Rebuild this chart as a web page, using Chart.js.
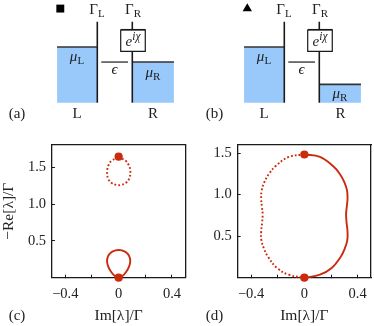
<!DOCTYPE html>
<html><head><meta charset="utf-8">
<script src="https://cdn.jsdelivr.net/npm/chart.js@4"></script>
<style>
html,body{margin:0;padding:0;background:#fff;width:374px;height:326px;overflow:hidden}
canvas{position:absolute}
.box{position:absolute;display:block}
.t{position:absolute;transform:translate(-50%,-50%);font-family:"Liberation Serif",serif;font-size:15px;color:#222;line-height:1;white-space:nowrap}
.t i{font-style:italic}
.t sub{font-size:11px;line-height:0;vertical-align:-3px}
.t sup{font-size:11.5px;line-height:0;vertical-align:6px}
</style></head><body>
<div class="box" style="left:0;top:0;width:187px;height:130px"><canvas id="a"></canvas></div>
<div class="box" style="left:187px;top:0;width:187px;height:130px"><canvas id="b"></canvas></div>
<div class="box" style="left:0;top:130px;width:187px;height:196px"><canvas id="c"></canvas></div>
<div class="box" style="left:187px;top:130px;width:187px;height:196px"><canvas id="d"></canvas></div>

<div class="t" style="left:97px;top:9px">Γ<sub>L</sub></div>
<div class="t" style="left:133px;top:9px">Γ<sub>R</sub></div>
<div class="t" style="left:77px;top:56px"><i>μ</i><sub>L</sub></div>
<div class="t" style="left:153px;top:72px"><i>μ</i><sub>R</sub></div>
<div class="t" style="left:114.5px;top:69px"><i>ϵ</i></div>
<div class="t" style="left:133px;top:41px"><i>e</i><sup><i>iχ</i></sup></div>
<div class="t" style="left:77px;top:113px">L</div>
<div class="t" style="left:153px;top:113px">R</div>
<div class="t" style="left:17px;top:113px">(a)</div>

<div class="t" style="left:284px;top:9px">Γ<sub>L</sub></div>
<div class="t" style="left:320px;top:9px">Γ<sub>R</sub></div>
<div class="t" style="left:264px;top:56px"><i>μ</i><sub>L</sub></div>
<div class="t" style="left:340px;top:93px"><i>μ</i><sub>R</sub></div>
<div class="t" style="left:301.5px;top:69px"><i>ϵ</i></div>
<div class="t" style="left:320px;top:41px"><i>e</i><sup><i>iχ</i></sup></div>
<div class="t" style="left:264px;top:113px">L</div>
<div class="t" style="left:340.5px;top:113px">R</div>
<div class="t" style="left:214.5px;top:113px">(b)</div>

<div class="t" style="left:17px;top:315px">(c)</div>
<div class="t" style="left:214.5px;top:315px">(d)</div>

<script>
// Panels (c), (d): eigenvalue loops, Im[λ]/Γ and −Re[λ]/Γ
const cDottedX = [0, .055, .073, .088, .08, .055, .015, -.015, -.055, -.08, -.086, -.073, -.055, 0];
const cDottedY = [1.644, 1.585, 1.54, 1.454, 1.35, 1.29, 1.26, 1.26, 1.29, 1.35, 1.454, 1.54, 1.585, 1.644];
const cSolidX = [0, .03, .057, .078, .087, .08, .055, .025, 0, -.025, -.055, -.08, -.087, -.078, -.057, -.03, 0];
const cSolidY = [0, .025, .08, .15, .22, .29, .345, .37, .376, .37, .345, .29, .22, .15, .08, .025, 0];
const cMarkerX = [0, 0];
const cMarkerY = [1.644, 0];
const dSolidX = [0, .117, .217, .265, .3, .32, .324, .318, .313, .317, .324, .322, .303, .272, .205, .117, 0];
const dSolidY = [1.482, 1.453, 1.34, 1.25, 1.15, 1.05, .95, .85, .76, .66, .55, .45, .35, .25, .117, .036, 0];
const dDottedX = [0, -.117, -.217, -.265, -.3, -.32, -.324, -.318, -.313, -.317, -.324, -.322, -.303, -.272, -.205, -.117, 0];
const dDottedY = [1.482, 1.453, 1.34, 1.25, 1.15, 1.05, .95, .85, .76, .66, .55, .45, .35, .25, .117, .036, 0];
const dMarkerX = [0, 0];
const dMarkerY = [1.482, 0];
const xTickLabels = {"-0.4": "−0.4", "0": "0", "0.4": "0.4"};
const yTickValues = [0.5, 1.0, 1.5];

// Panels (a), (b): level scheme, energies in units of μL
const muL = 1;
const muRa = 0.73;
const muRb = 0.33;
const epsilon = 0.73;
const wallTop = 1.454;
const boxBottom = 0.923;
const boxTop = 1.31;

const RED = '#cb2a0c', BLUE = '#99c9fb', INK = '#1a1a1a';
const FONT = '"Liberation Serif", serif';
const pts = (xs, ys) => xs.map((x, i) => ({x, y: ys[i]}));

function scheme(id, muR, mark) {
  const line = (xs, ys, extra) => Object.assign({
    data: pts(xs, ys), showLine: true, pointRadius: 0, borderColor: INK, borderWidth: 1.6, tension: 0, clip: false
  }, extra);
  new Chart(document.getElementById(id), {
    type: 'scatter',
    data: {datasets: [
      line([-1.15, 0], [muL, muL], {fill: {value: 0}, backgroundColor: BLUE, borderColor: '#333', order: 6}),
      line([1, 2.19], [muR, muR], {fill: {value: 0}, backgroundColor: BLUE, borderColor: '#333', order: 6}),
      line([0, 0], [0, wallTop], {order: 5}),
      line([1, 1], [0, wallTop], {order: 5}),
      line([.114, .877], [epsilon, epsilon], {borderWidth: 1.2, order: 5}),
      line([.669, 1.371], [boxTop, boxTop], {fill: {value: boxBottom}, backgroundColor: '#fff', order: 3}),
      line([.669, 1.371, 1.371, .669, .669], [boxTop, boxTop, boxBottom, boxBottom, boxTop], {borderWidth: 1.2, order: 2}),
      {data: pts([-1.057], [1.69]), pointStyle: mark, pointRadius: mark === 'rect' ? 5.6 : 5.4, pointBackgroundColor: '#000', pointBorderWidth: 0, order: 1}
    ]},
    options: {
      responsive: false, animation: false, events: [],
      layout: {padding: 0, autoPadding: false},
      plugins: {legend: {display: false}, tooltip: {enabled: false}},
      scales: {
        x: {type: 'linear', display: false, min: -2.78, max: 2.563},
        y: {type: 'linear', display: false, min: -0.49, max: 1.844}
      }
    }
  });
}

function loop(id, solid, dotted, marks, yMax, left, right, yTitle) {
  const axisFit = (prop, v) => s => {
    s[prop] = v;
    s.paddingLeft = s.paddingRight = s.paddingTop = s.paddingBottom = 0;
  };
  const hidden = (pos, prop) => ({
    type: 'linear', position: pos, display: true, min: 0, max: 1,
    ticks: {display: false}, afterFit: axisFit(prop, 0),
    grid: {drawOnChartArea: false, drawTicks: false},
    border: {display: true, color: INK, width: 1.3}
  });
  new Chart(document.getElementById(id), {
    type: 'scatter',
    data: {datasets: [
      {data: marks, pointRadius: 4.1, pointBackgroundColor: RED, pointBorderWidth: 0, clip: false, order: 1},
      {data: solid, showLine: true, pointRadius: 0, borderColor: RED, borderWidth: 1.9, tension: 0.4, clip: false, order: 2},
      {data: dotted, showLine: true, pointRadius: 0, borderColor: RED, borderWidth: 1.9, borderDash: [1.8, 2.1], tension: 0.4, clip: false, order: 3}
    ]},
    options: {
      responsive: false, animation: false, events: [],
      layout: {padding: {left: 0, right: right, top: 14.7, bottom: 1}, autoPadding: false},
      plugins: {legend: {display: false}, tooltip: {enabled: false}},
      scales: {
        x: {
          type: 'linear', position: 'bottom', min: -0.5, max: 0.5,
          afterBuildTicks: s => { s.ticks = [-.4, -.2, 0, .2, .4].map(value => ({value})); },
          afterFit: axisFit('height', 47.3),
          ticks: {
            autoSkip: false, maxRotation: 0, padding: 11, color: '#222',
            font: {family: FONT, size: 14.5},
            callback: v => xTickLabels[String(Math.round(v * 10) / 10)] ?? ''
          },
          grid: {drawOnChartArea: false, tickLength: -3, tickWidth: 1, tickColor: INK},
          border: {display: true, color: INK, width: 1.3},
          title: {display: true, text: 'Im[λ]/Γ', color: '#222', font: {family: FONT, size: 15.5}, padding: {top: 0, bottom: 0}}
        },
        y: {
          type: 'linear', position: 'left', min: 0, max: yMax,
          afterBuildTicks: s => { s.ticks = yTickValues.map(value => ({value})); },
          afterFit: axisFit('width', left),
          ticks: {
            padding: 9, color: '#222',
            font: {family: FONT, size: 14.5},
            callback: v => v.toFixed(1)
          },
          grid: {drawOnChartArea: false, tickLength: -3, tickWidth: 1, tickColor: INK},
          border: {display: true, color: INK, width: 1.3},
          title: yTitle ? {display: true, text: '−Re[λ]/Γ', color: '#222', font: {family: FONT, size: 15.5}, padding: {top: 0, bottom: 0}} : {display: false}
        },
        x2: hidden('top', 'height'),
        y2: hidden('right', 'width')
      }
    }
  });
}

function size(id, w, h) {
  const c = document.getElementById(id);
  c.width = w; c.height = h; c.style.width = w + 'px'; c.style.height = h + 'px';
}
size('a', 187, 130); size('b', 187, 130); size('c', 187, 196); size('d', 187, 196);

scheme('a', muRa, 'rect');
scheme('b', muRb, 'triangle');
loop('c', pts(cSolidX, cSolidY), pts(cDottedX, cDottedY), pts(cMarkerX, cMarkerY), 1.807, 52, 1.7, true);
loop('d', pts(dSolidX, dSolidY), pts(dDottedX, dDottedY), pts(dMarkerX, dMarkerY), 1.6, 50.7, 3, false);
</script>
</body></html>
